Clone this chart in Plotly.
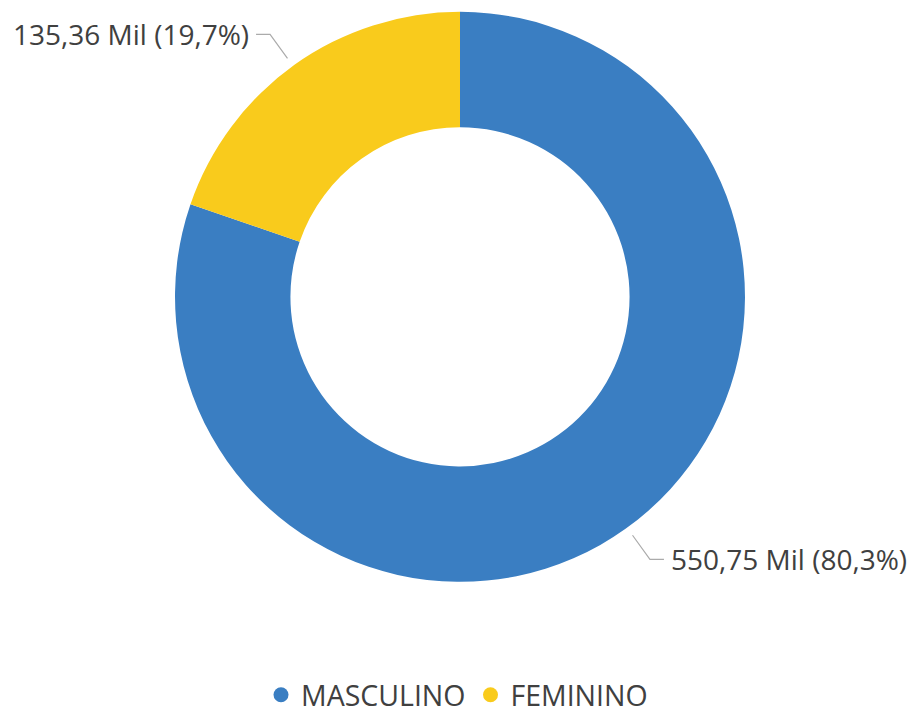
import math
import plotly.graph_objects as go

# Data
categorias = ["MASCULINO", "FEMININO"]
valores = [550750, 135360]
cores = ["#3A7EC2", "#F9CB1C"]

W, H = 914, 721
CX, CY, R = 460, 301, 289          # donut centre and outer radius (px)
HOLE = 0.595
FONT = "Open Sans"
TXT_COLOR = "#404040"
LINE_COLOR = "#ABABAB"


def px_to_paper(x, y):
    return x / W, 1 - y / H


def fmt_num(v, dec):
    return f"{v:.{dec}f}".replace(".", ",")


fig = go.Figure()

fig.add_trace(go.Pie(
    labels=categorias,
    values=valores,
    hole=HOLE,
    sort=False,
    direction="clockwise",
    rotation=0,
    marker=dict(colors=cores, line=dict(width=0)),
    textinfo="none",
    hoverinfo="label+value+percent",
    showlegend=False,
    domain=dict(x=[(CX - R) / W, (CX + R) / W],
                y=[1 - (CY + R) / H, 1 - (CY - R) / H]),
))

# Legend entries with round markers
for nome, cor in zip(categorias, cores):
    fig.add_trace(go.Scatter(
        x=[None], y=[None], mode="markers", name=nome,
        marker=dict(color=cor, size=15, symbol="circle"),
        hoverinfo="skip",
    ))

# Outside data labels with elbow leader lines
total = sum(valores)
acum = 0
shapes = []
annotations = []
for v in valores:
    frac = v / total
    mid = (acum + frac / 2) * 2 * math.pi
    acum += frac
    dx, dy = math.sin(mid), -math.cos(mid)     # screen coords (y down)
    r1, r2 = R + 8, R + 38
    x1, y1 = CX + dx * r1, CY + dy * r1
    x2, y2 = CX + dx * r2, CY + dy * r2
    side = 1 if dx >= 0 else -1
    x3 = x2 + side * 14
    pts = [px_to_paper(x1, y1), px_to_paper(x2, y2), px_to_paper(x3, y2)]
    path = "M {} {} L {} {} L {} {}".format(*[c for p in pts for c in p])
    shapes.append(dict(type="path", xref="paper", yref="paper", path=path,
                       line=dict(color=LINE_COLOR, width=1.2)))
    texto = f"{fmt_num(v / 1000, 2)} Mil ({fmt_num(frac * 100, 1)}%)"
    tx, ty = px_to_paper(x3 + side * 5, y2)
    annotations.append(dict(
        x=tx, y=ty, xref="paper", yref="paper", text=texto, showarrow=False,
        xanchor="left" if side > 0 else "right", yanchor="middle",
        font=dict(family=FONT, size=28, color=TXT_COLOR),
    ))

fig.update_layout(
    width=W, height=H,
    margin=dict(l=0, r=0, t=0, b=0),
    paper_bgcolor="white",
    plot_bgcolor="white",
    xaxis=dict(visible=False),
    yaxis=dict(visible=False),
    shapes=shapes,
    annotations=annotations,
    showlegend=True,
    legend=dict(
        orientation="h", x=0.5, xanchor="center", y=1 - 705 / H, yanchor="middle",
        font=dict(family=FONT, size=28.5, color=TXT_COLOR),
        itemclick=False, itemdoubleclick=False,
        bgcolor="rgba(0,0,0,0)",
    ),
)

fig.write_html("out.html")
